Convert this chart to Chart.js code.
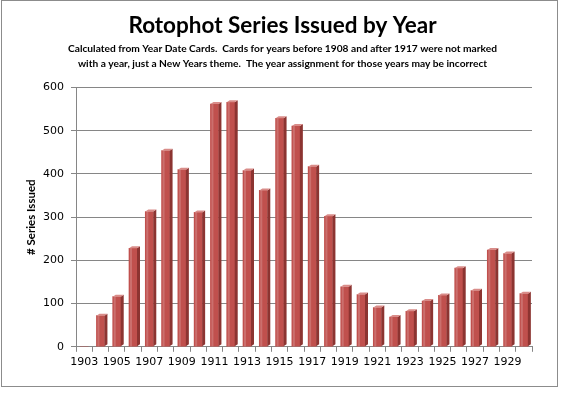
<!DOCTYPE html>
<html>
<head>
<meta charset="utf-8">
<script src="https://cdn.jsdelivr.net/npm/chart.js@4"></script>
<style>
  html, body { margin: 0; padding: 0; background: #fff; }
  #wrap { position: relative; width: 565px; height: 397px; }
  #frame { position: absolute; left: 1px; top: 0px; width: 555px; height: 385px; border: 1px solid #8c8c8c; pointer-events: none; }
  canvas { position: absolute; left: 0; top: 0; }
</style>
</head>
<body>
<div id="wrap">
  <canvas id="chart" width="565" height="397"></canvas>
  <div id="frame"></div>
</div>
<script>
(function () {
  // Years on the category axis
  var years = ['1903', '1904', '1905', '1906', '1907', '1908', '1909', '1910', '1911', '1912',
               '1913', '1914', '1915', '1916', '1917', '1918', '1919', '1920', '1921', '1922',
               '1923', '1924', '1925', '1926', '1927', '1928', '1929', '1930'];

  // Number of series issued per year
  var seriesIssued = [0, 72, 116, 228, 313, 454, 410, 311, 562, 566,
                      408, 362, 529, 511, 417, 302, 139, 121, 91, 69,
                      82, 106, 119, 182, 130, 224, 216, 123];

  var yTicks = [0, 100, 200, 300, 400, 500, 600];

  var barRed  = '#c0504d';
  var barSide = '#8c3431';
  var barTop  = '#d98c89';

  // draws a small side face and top cap next to each bar, for the 3-D look
  var depthPlugin = {
    id: 'depth',
    afterDatasetsDraw: function (chart) {
      var ctx = chart.ctx;
      var meta = chart.getDatasetMeta(0);
      var d = 3, dy = 2;
      meta.data.forEach(function (bar, i) {
        if (!seriesIssued[i]) return;
        var p = bar.getProps(['x', 'y', 'base', 'width'], true);
        var l = p.x - p.width / 2, r = p.x + p.width / 2;
        ctx.save();
        // side
        ctx.fillStyle = barSide;
        ctx.beginPath();
        ctx.moveTo(r, p.y);
        ctx.lineTo(r + d, p.y - dy);
        ctx.lineTo(r + d, p.base - dy);
        ctx.lineTo(r, p.base);
        ctx.closePath();
        ctx.fill();
        // top
        ctx.fillStyle = barTop;
        ctx.beginPath();
        ctx.moveTo(l, p.y);
        ctx.lineTo(l + d, p.y - dy);
        ctx.lineTo(r + d, p.y - dy);
        ctx.lineTo(r, p.y);
        ctx.closePath();
        ctx.fill();
        // soft highlight on the front face
        ctx.fillStyle = 'rgba(255,255,255,0.18)';
        ctx.fillRect(l + 1, p.y, 2, p.base - p.y);
        ctx.restore();
      });
    }
  };

  new Chart(document.getElementById('chart'), {
    type: 'bar',
    data: {
      labels: years,
      datasets: [{
        label: '# Series Issued',
        data: seriesIssued,
        backgroundColor: barRed,
        borderWidth: 0,
        barThickness: 8
      }]
    },
    options: {
      responsive: false,
      animation: false,
      layout: { padding: { top: 4, bottom: 24, left: 0, right: 0 } },
      scales: {
        x: {
          grid: { display: true, drawOnChartArea: false, offset: true, color: '#868686', tickLength: 5 },
          border: { display: true, color: '#868686' },
          ticks: {
            autoSkip: false,
            maxRotation: 0,
            padding: 4,
            color: '#000',
            font: { family: 'DejaVu Sans', size: 11 },
            callback: function (val, i) { return i % 2 === 0 ? years[i] : ''; }
          }
        },
        y: {
          min: 0,
          max: 600,
          afterBuildTicks: function (axis) {
            axis.ticks = yTicks.map(function (v) { return { value: v }; });
          },
          afterFit: function (axis) { axis.width = 76; },
          grid: { color: '#868686', tickLength: 5 },
          border: { display: true, color: '#868686' },
          ticks: {
            padding: 7,
            color: '#000',
            font: { family: 'DejaVu Sans', size: 11 }
          },
          title: {
            display: true,
            text: '# Series Issued',
            color: '#000',
            padding: { top: 24, bottom: 0 },
            font: { family: 'Lato', size: 11.5, weight: 'bold' }
          }
        },
        y2: {
          position: 'right',
          display: true,
          min: 0,
          max: 600,
          afterFit: function (axis) { axis.width = 33; },
          grid: { display: false },
          border: { display: false },
          ticks: { display: false }
        }
      },
      plugins: {
        legend: { display: false },
        tooltip: { enabled: false },
        title: {
          display: true,
          text: 'Rotophot Series Issued by Year',
          color: '#000',
          padding: { top: 8, bottom: 3 },
          font: { family: 'Lato', size: 22.5, weight: 'bold' }
        },
        subtitle: {
          display: true,
          text: ['Calculated from Year Date Cards.  Cards for years before 1908 and after 1917 were not marked',
                 'with a year, just a New Years theme.  The year assignment for those years may be incorrect'],
          color: '#000',
          padding: { top: 0, bottom: 17 },
          font: { family: 'Lato', size: 10.2, weight: 'bold', lineHeight: 1.4 }
        }
      }
    },
    plugins: [depthPlugin]
  });
})();
</script>
</body>
</html>
